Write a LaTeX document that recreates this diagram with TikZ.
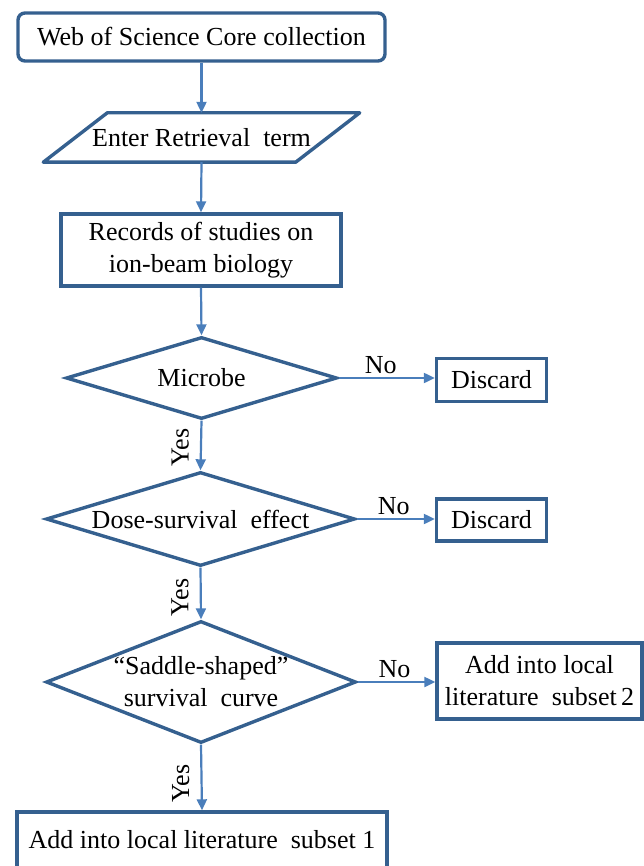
\documentclass[tikz,border=0pt]{standalone}
\usepackage{fontspec}
\setmainfont{Liberation Serif}
\usetikzlibrary{shapes.geometric,arrows.meta,calc}
\definecolor{boxblue}{HTML}{35608F}
\definecolor{arrblue}{HTML}{4A7EBB}
\begin{document}
\begin{tikzpicture}[x=1pt,y=-1pt,
  every node/.style={font=\fontsize{26}{32}\selectfont, align=center, inner sep=0pt},
  boxnode/.style={draw=boxblue, line width=3.4pt, rectangle},
  decnode/.style={draw=boxblue, line width=3.4pt, diamond, inner sep=0pt},
  conn/.style={draw=arrblue, line width=2.2pt, -{Triangle[length=11pt,width=10pt]}},
  lbl/.style={font=\fontsize{26}{32}\selectfont}]
\useasboundingbox (0,0) rectangle (643,866);

\node[boxnode, rounded corners=7pt, minimum width=367pt, minimum height=48pt] (b1) at (201.5,37) {Web of Science Core collection};

\node[minimum width=252pt, minimum height=49pt] (p) at (201.5,137.5) {Enter Retrieval\ \ term};
\draw[boxblue, line width=3.4pt, line join=round]
  ([xshift=-32pt]p.south west) -- ([xshift=32pt]p.north west) -- ([xshift=32pt]p.north east) -- ([xshift=-32pt]p.south east) -- cycle;

\node[boxnode, minimum width=280pt, minimum height=72pt] (b3) at (201,250) {Records of studies on\\ion-beam biology};

\node[decnode, minimum width=271pt, minimum height=82pt, label={center:Microbe}] (d1) at (201.5,378) {};
\node[boxnode, minimum width=110pt, minimum height=43pt] (x1) at (491.5,380) {Discard};

\node[decnode, minimum width=309pt, minimum height=94pt, label={center:Dose-survival\ \ effect}] (d2) at (200.5,519) {};
\node[boxnode, minimum width=110pt, minimum height=42pt] (x2) at (491.5,520) {Discard};

\node[decnode, minimum width=310pt, minimum height=122pt, label={[align=center]center:{``Saddle-shaped''\\survival\ \ curve}}] (d3) at (201,682) {};
\node[boxnode, minimum width=205pt, minimum height=76pt] (s2) at (539.5,681) {Add into local\\literature\ \ subset\,2};

\node[boxnode, minimum width=370pt, minimum height=56pt] (s1) at (202,840) {Add into local literature\ \ subset 1};

\draw[conn] (b1.south -| p.center) -- (p.north);
\draw[conn] (p.south) -- (b3.north);
\draw[conn] (b3.south) -- (d1.north);
\draw[conn] (d1.south) -- node[lbl, rotate=90, anchor=south, xshift=-2pt, yshift=11pt] (y1) {Yes} (d2.north);
\draw[conn] (d2.south) -- node[lbl, rotate=90, anchor=south, xshift=-4pt, yshift=11pt] (y2) {Yes} (d3.north);
\draw[conn] (d3.south) -- node[lbl, rotate=90, anchor=south, xshift=-6pt, yshift=11pt] (y3) {Yes} (s1.north);
\draw[conn] (d1.east) -- node[lbl, above, yshift=3pt, xshift=-6pt] (n1) {No} (d1.east -| x1.west);
\draw[conn] (d2.east) -- node[lbl, above, yshift=3pt, xshift=-2pt] (n2) {No} (d2.east -| x2.west);
\draw[conn] (d3.east) -- node[lbl, above, yshift=3pt, xshift=-2pt] (n3) {No} (d3.east -| s2.west);
\end{tikzpicture}
\end{document}
